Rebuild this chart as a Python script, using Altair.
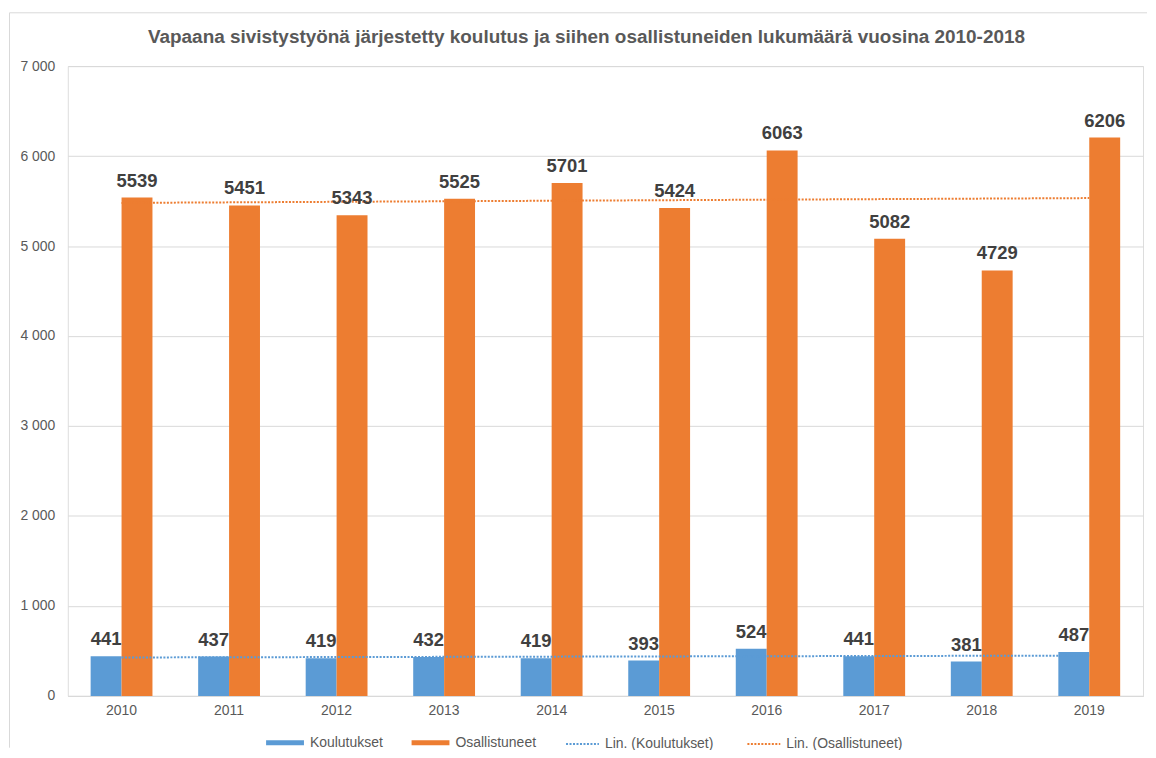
import altair as alt
import pandas as pd
import numpy as np

years = [str(y) for y in range(2010, 2020)]
koulutukset = [441, 437, 419, 432, 419, 393, 524, 441, 381, 487]
osallistuneet = [5539, 5451, 5343, 5525, 5701, 5424, 6063, 5082, 4729, 6206]

series_names = ["Koulutukset", "Osallistuneet"]
trend_names = ["Lin. (Koulutukset)", "Lin. (Osallistuneet)"]
colors = ["#5B9BD5", "#ED7D31"]
title_text = "Vapaana sivistystyönä järjestetty koulutus ja siihen osallistuneiden lukumäärä vuosina 2010-2018"

rows = []
for i, y in enumerate(years):
    rows.append({"year": y, "series": series_names[0], "value": koulutukset[i]})
    rows.append({"year": y, "series": series_names[1], "value": osallistuneet[i]})
bars_df = pd.DataFrame(rows)

# Excel-style linear trendlines (least squares over category index)
idx = np.arange(len(years))
trend_rows = []
for name, vals in zip(trend_names, [koulutukset, osallistuneet]):
    slope, intercept = np.polyfit(idx, vals, 1)
    for i, y in enumerate(years):
        trend_rows.append({"year": y, "trend": name, "fit": float(intercept + slope * i)})
trend_df = pd.DataFrame(trend_rows)

FONT = "Liberation Sans"
W, H = 1079, 632
PAD = {"left": 60, "top": 57, "right": 5, "bottom": 53}
GRID = "#d9d9d9"
TXT = "#595959"

x_enc = alt.X(
    "year:N", sort=years,
    scale=alt.Scale(paddingInner=0.425, paddingOuter=0.2125),
    axis=alt.Axis(title=None, labelAngle=0, ticks=False, domainColor=GRID,
                  labelColor=TXT, labelFontSize=14, labelPadding=8, grid=False,
                  labelFont=FONT),
)
y_enc = alt.Y(
    "value:Q",
    scale=alt.Scale(domain=[0, 7000], nice=False),
    axis=alt.Axis(title=None, values=list(range(0, 7001, 1000)), grid=True,
                  gridColor=GRID, domain=False, ticks=False, labelPadding=13,
                  labelColor=TXT, labelFontSize=14, labelFont=FONT,
                  labelExpr="replace(format(datum.value, ','), ',', ' ')"),
)
xoff = alt.XOffset("series:N", sort=series_names,
                   scale=alt.Scale(paddingInner=0, paddingOuter=0))

# light chart frame (top and left edges visible in the reference), kept inside the SVG
frame = alt.Data(values=[{}])
border_top = alt.Chart(frame).mark_rule(color=GRID, strokeWidth=1).encode(
    x=alt.value(-58.5), x2=alt.value(W + PAD["right"] - 1), y=alt.value(-53.5)
)
border_left = alt.Chart(frame).mark_rule(color=GRID, strokeWidth=1).encode(
    x=alt.value(-58.5), y=alt.value(-53.5), y2=alt.value(H + PAD["bottom"] - 1)
)

bars = alt.Chart(bars_df).mark_bar().encode(
    x=x_enc, xOffset=xoff, y=y_enc,
    fill=alt.Fill("series:N", scale=alt.Scale(domain=series_names, range=colors),
                  legend=alt.Legend(orient="none", legendX=199, legendY=660,
                                    direction="horizontal", title=None,
                                    symbolType="M-1,-0.13H1V0.13H-1Z", symbolSize=1444,
                                    symbolStrokeWidth=0, labelFontSize=14,
                                    labelColor=TXT, labelFont=FONT,
                                    labelOffset=6, columnPadding=28, padding=0)),
)

labels = alt.Chart(bars_df).mark_text(
    font=FONT, fontWeight="bold", fontSize=18.5, color="#404040",
    baseline="alphabetic", dy=-11
).encode(
    x=alt.X("year:N", sort=years), xOffset=alt.XOffset("series:N", sort=series_names),
    y=alt.Y("value:Q"), text=alt.Text("value:Q", format="d"),
)

lines = alt.Chart(trend_df).mark_line(strokeWidth=2, strokeDash=[2, 1.5]).encode(
    x=alt.X("year:N", sort=years),
    y=alt.Y("fit:Q"),
    stroke=alt.Stroke("trend:N", scale=alt.Scale(domain=trend_names, range=colors),
                      legend=alt.Legend(orient="none", legendX=499, legendY=662.5,
                                        direction="horizontal", title=None,
                                        symbolType="stroke", symbolSize=1089,
                                        symbolStrokeWidth=2, symbolDash=[2, 1.5],
                                        labelFontSize=14, labelColor=TXT,
                                        labelFont=FONT, labelOffset=5,
                                        columnPadding=30, padding=0)),
)

chart = alt.layer(border_top, border_left, bars, lines, labels).properties(
    width=W, height=H,
    padding=PAD,
    autosize=alt.AutoSizeParams(type="none"),
    title=alt.TitleParams(title_text, font=FONT, fontSize=19, fontWeight="bold",
                          color=TXT, anchor="middle", baseline="alphabetic",
                          offset=0, dy=49.5, dx=-19),
).configure_view(stroke=None).configure(font=FONT)

chart.save("out.html", embed_options={"renderer": "svg", "actions": False})
